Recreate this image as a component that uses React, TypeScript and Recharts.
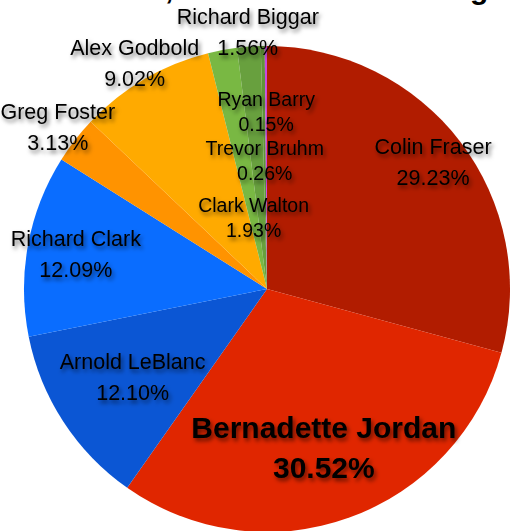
import { PieChart, Pie, Cell } from 'recharts';

// clockwise from 12 o'clock
const candidates = [
    'Colin Fraser', 'Bernadette Jordan', 'Arnold LeBlanc', 'Richard Clark', 'Greg Foster',
    'Alex Godbold', 'Clark Walton', 'Richard Biggar', 'Trevor Bruhm', 'Ryan Barry',
];
const shares = [29.23, 30.52, 12.10, 12.09, 3.13, 9.02, 1.93, 1.56, 0.26, 0.15];
const sliceColors = [
    '#b11c00', '#e02600', '#0b56d4', '#0a6dff', '#ff9300',
    '#ffaa00', '#79b843', '#68a03e', '#5f9539', '#c947e0',
];

// label distance from centre, as a fraction of the radius
const LABEL_RADIUS: Record<string, number> = {
    'Colin Fraser': 0.86, 'Bernadette Jordan': 0.69, 'Arnold LeBlanc': 0.66, 'Richard Clark': 0.8,
    'Greg Foster': 1.09, 'Alex Godbold': 1.08, 'Clark Walton': 0.3, 'Richard Biggar': 1.06,
    'Trevor Bruhm': 0.53, 'Ryan Barry': 0.73,
};
const INNER = ['Clark Walton', 'Trevor Bruhm', 'Ryan Barry'];

const FONT = "'Liberation Sans', Arial, Helvetica, sans-serif";
const RAD = Math.PI / 180;

const data = candidates.map((name, i) => ({ name, value: shares[i] }));

function renderLabel(props: any) {
    const { cx, cy, midAngle, outerRadius, name, value } = props;
    const r = outerRadius * (LABEL_RADIUS[name] ?? 0.7);
    const x = cx + r * Math.cos(-midAngle * RAD);
    const y = cy + r * Math.sin(-midAngle * RAD);
    const winner = name === 'Bernadette Jordan';
    const inner = INNER.includes(name);
    const size = winner ? 30 : inner ? 19.5 : 21.5;
    const gap = winner ? 40 : inner ? 25 : 31;
    return (
        <text
            x={x} y={y} textAnchor="middle" fill="#000" filter="url(#lblShadow)"
            style={{ fontFamily: FONT, fontSize: size, fontWeight: winner ? 700 : 400 }}
        >
            <tspan x={x} dy={-gap / 2 + size * 0.36}>{name}</tspan>
            <tspan x={x} dy={gap}>{value.toFixed(2)}%</tspan>
        </text>
    );
}

export default function App() {
    return (
        <div style={{ position: 'absolute', left: 0, top: 0, width: 510, height: 531, overflow: 'hidden', background: '#fff' }}>
            <svg width={510} height={531} style={{ position: 'absolute', left: 0, top: 0 }}>
                <defs>
                    <filter id="lblShadow" x="-20%" y="-20%" width="140%" height="160%">
                        <feDropShadow dx="2" dy="3" stdDeviation="2" floodColor="#000" floodOpacity="0.55" />
                    </filter>
                </defs>
            </svg>
            <div style={{ position: 'absolute', left: 0, top: 0 }}>
                <PieChart width={510} height={531} margin={{ top: 0, right: 0, bottom: 0, left: 0 }}>
                    <Pie
                        data={data} dataKey="value" nameKey="name"
                        cx={267} cy={289} outerRadius={243}
                        startAngle={90} endAngle={-270}
                        stroke="none" labelLine={false} label={renderLabel}
                        isAnimationActive={false}
                    >
                        {data.map((d, i) => <Cell key={d.name} fill={sliceColors[i]} />)}
                    </Pie>
                </PieChart>
            </div>
            <svg width={510} height={14} style={{ position: 'absolute', left: 0, top: 0 }}>
                <text x={470} y={-1} textAnchor="end" style={{ fontFamily: FONT, fontSize: 30, fontWeight: 700 }}>
                    Liberal Nomination Results, South Shore-St. Mar
                </text>
                <text x={470} y={-1} style={{ fontFamily: FONT, fontSize: 30, fontWeight: 700 }}>garet's</text>
            </svg>
        </div>
    );
}
